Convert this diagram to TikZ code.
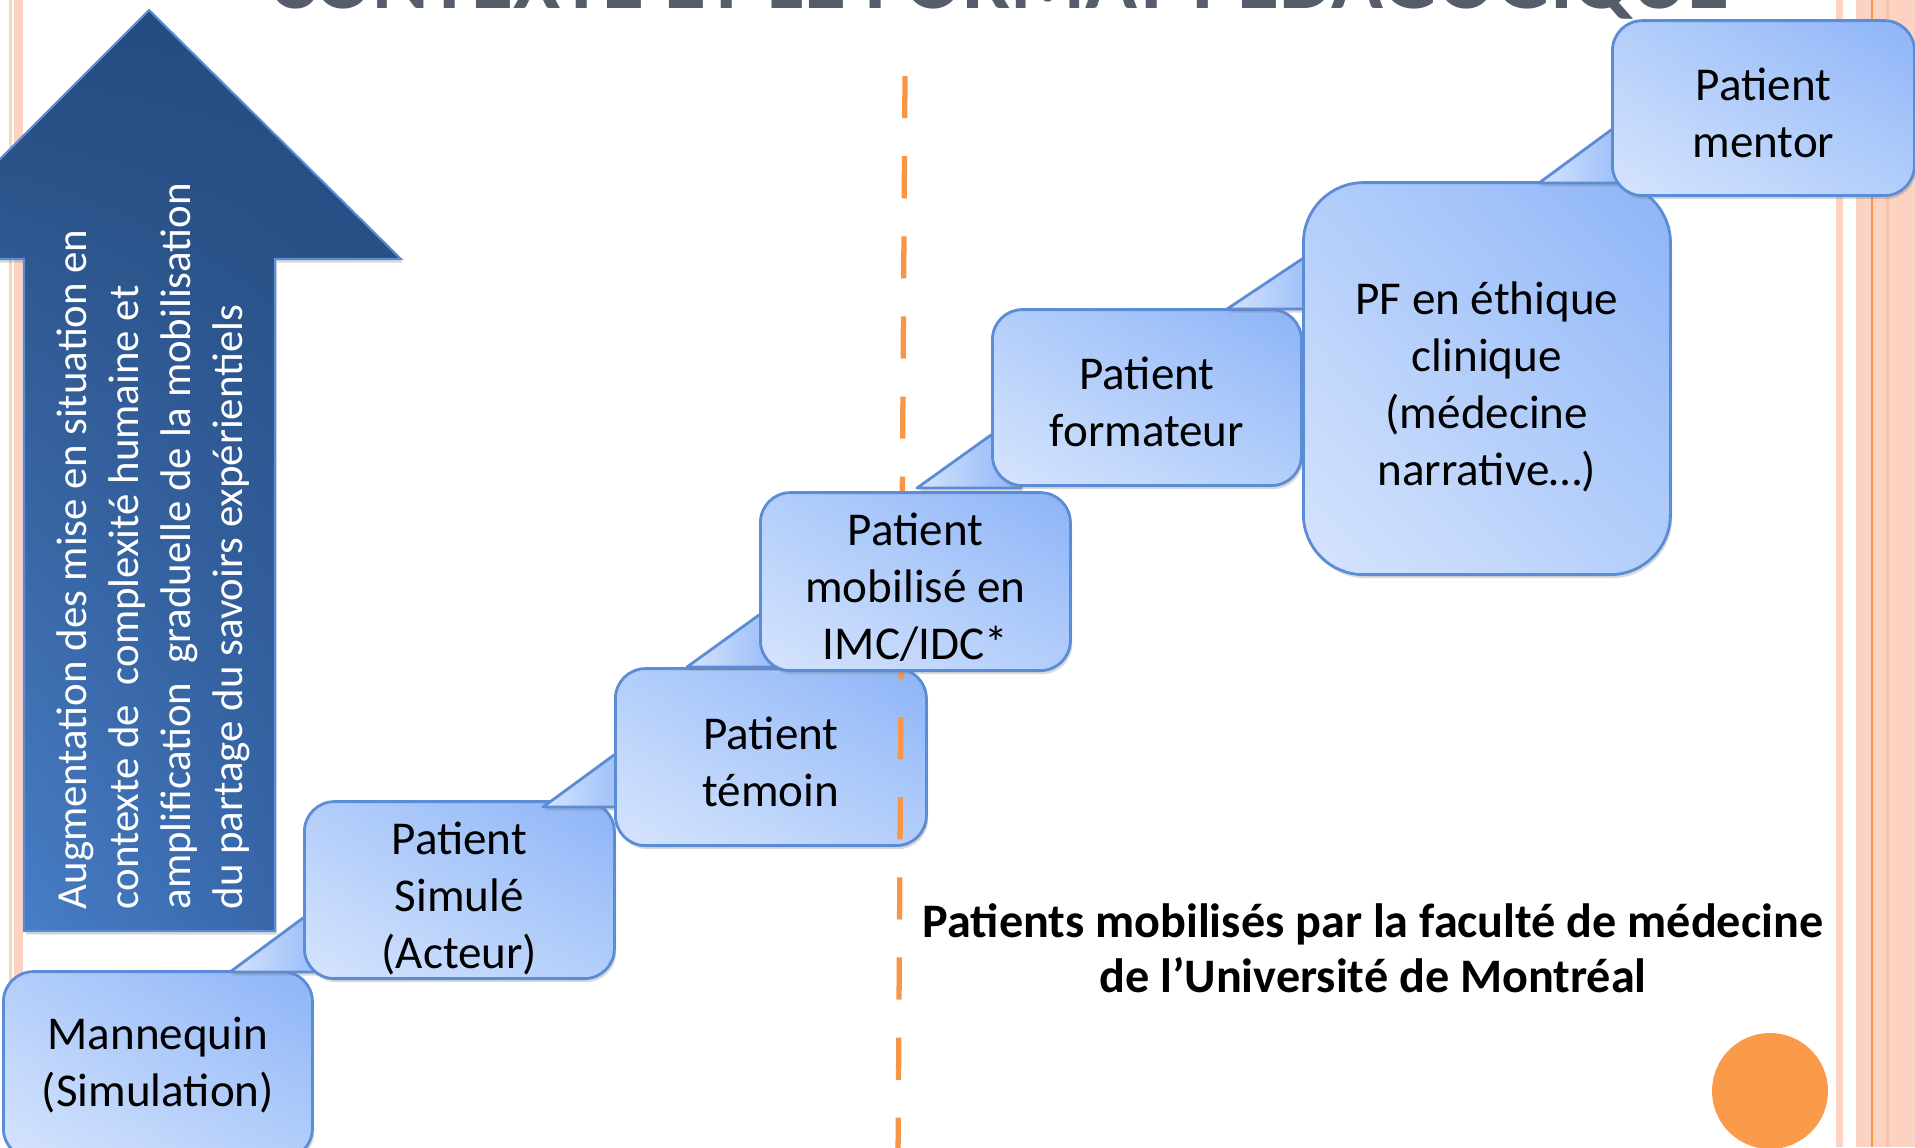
\documentclass[tikz,border=0pt]{standalone}
\usepackage{fontspec}
\setmainfont{Carlito}
\usetikzlibrary{shadows,shadings}

\definecolor{peach}{HTML}{FCD3C2}
\definecolor{peachdark}{HTML}{F9C2AA}
\definecolor{slideorange}{HTML}{F79646}
\definecolor{dotorange}{HTML}{FA9B4B}
\definecolor{titlegray}{HTML}{555D6B}
\definecolor{navy}{HTML}{254A7D}
\definecolor{navymid}{HTML}{2F5C9B}
\definecolor{navylight}{HTML}{5089D4}
\definecolor{navyline}{HTML}{5B8DD6}
\definecolor{boxlight}{HTML}{D6E4FD}
\definecolor{boxmid}{HTML}{B3CEFA}
\definecolor{boxdark}{HTML}{8DB4F8}
\definecolor{boxline}{HTML}{5B8CD6}

% taller first line, pushes the text of a box down a little
\newcommand{\padtop}[1]{\rule{0pt}{#1}}

\begin{document}
\begin{tikzpicture}[
    x=0.1mm, y=-0.1mm,
    every node/.style={inner sep=0pt, align=center, font=\fontsize{13.4}{16.2}\selectfont},
    softshadow/.style={drop shadow={opacity=0.3, shadow xshift=0.5pt, shadow yshift=-1pt}},
    callout/.style={draw=boxline, line width=0.8pt, rounded corners=3mm, anchor=south west,
        upper left=boxmid, upper right=boxdark, lower left=boxlight, lower right=boxmid, softshadow},
    tail/.style={draw=boxline, line width=0.8pt, line join=round,
        left color=boxlight, right color=boxdark, softshadow},
    dashes/.style={slideorange, line width=1.5pt, dash pattern=on 12pt off 10.8pt}
]
\useasboundingbox (0,0) rectangle (1915,1147);
\clip (0,0) rectangle (1915,1147);

% slide border stripes
\fill[peach] (9,0) rectangle (12,1147);
\fill[peach] (13.5,0) rectangle (22.5,1147);
\fill[peach] (1836,0) rectangle (1843,1147);
\fill[peach] (1856,0) rectangle (1915,1147);
\fill[peachdark] (1886,0) rectangle (1889,1147);
\draw[slideorange, line width=0.4pt] (1872,0) -- (1872,1147);

% title, cut at the top
\node[anchor=base west, text=titlegray, font=\fontsize{24.4}{28}\selectfont\bfseries] (title)
    at (269,8) {CONTEXTE ET LE FORMAT PÉDAGOGIQUE};

% big arrow
\draw[navyline, line width=0.6pt, upper left=navy, upper right=navy,
      lower left=navylight, lower right=navymid, softshadow]
    (149,10) -- (401,259) -- (275,259) -- (275,931) -- (24,931) -- (24,259) -- (-100,259) -- cycle;
\node[rotate=90, anchor=west, align=left, text=white, font=\fontsize{12.2}{14.8}\selectfont] (arrowtext)
    at (153,910) {Augmentation des mise en situation en\\contexte de \ complexité humaine et\\amplification \ graduelle de la mobilisation\\du partage du savoirs expérientiels};

% steps
\node[callout, minimum width=30.9mm, minimum height=18.7mm] (mannequin) at (2,1160) {Mannequin\\(Simulation)};

\draw[tail] (303,918) -- ++(-73,54) -- ++(103,0) -- ++(0,-54) -- cycle;
\node[callout, minimum width=31mm, minimum height=17.7mm] (simule) at (303,980) {\padtop{13.9pt}Patient\\Simulé\\(Acteur)};

\draw[tail] (614,755) -- ++(-71,52) -- ++(101,0) -- ++(0,-52) -- cycle;
\node[callout, minimum width=31.1mm, minimum height=17.7mm] (temoin) at (614,847) {\padtop{11.9pt}Patient\\témoin};

\coordinate (dashtop) at (905,76);
\coordinate (dashbot) at (898,1160);
\draw[dashes] (dashtop) -- (dashbot);

\draw[tail] (759,615) -- ++(-72,52) -- ++(102,0) -- ++(0,-52) -- cycle;
\node[callout, minimum width=31mm, minimum height=17.8mm] (imc) at (759,672) {\padtop{12.6pt}Patient\\mobilisé en\\IMC/IDC*};

\draw[tail] (991,435) -- ++(-74,53) -- ++(104,0) -- ++(0,-53) -- cycle;
\node[callout, minimum width=30.9mm, minimum height=17.6mm] (formateur) at (991,487) {\padtop{11.9pt}Patient\\formateur};

\draw[tail] (1302,259) -- ++(-75,50) -- ++(105,0) -- ++(0,-50) -- cycle;
\node[callout, rounded corners=6mm, minimum width=36.7mm, minimum height=39.2mm] (pf) at (1302,576) {\padtop{14pt}PF en éthique\\clinique\\(médecine\\narrative…)};

\draw[tail] (1611,130) -- ++(-72,53) -- ++(102,0) -- ++(0,-53) -- cycle;
\node[callout, minimum width=30.2mm, minimum height=17.5mm] (mentor) at (1611,197) {\padtop{11.9pt}Patient\\mentor};

\node[font=\fontsize{13.7}{15.6}\selectfont\bfseries] (faculte) at (1373,948)
    {Patients mobilisés par la faculté de médecine\\de l’Université de Montréal};

\node[circle, fill=dotorange, minimum size=11.6mm] (dot) at (1770,1091) {};
\end{tikzpicture}
\end{document}
